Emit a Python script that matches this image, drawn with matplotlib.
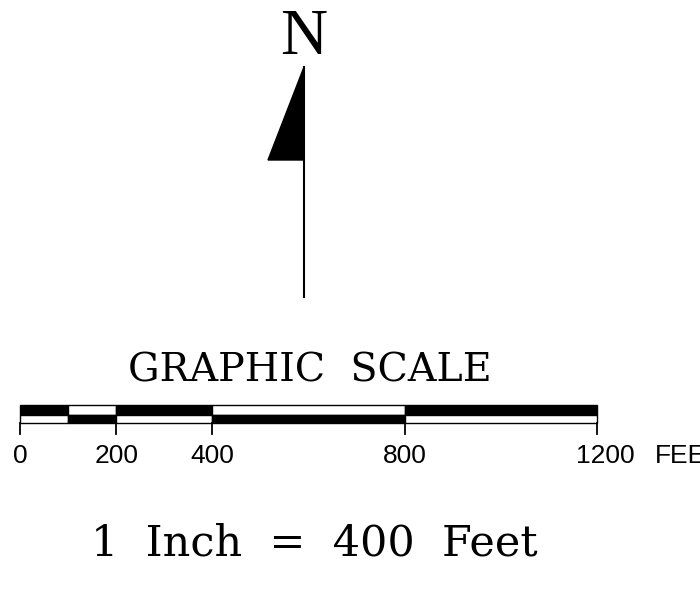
import matplotlib
matplotlib.use('Agg')
import matplotlib.pyplot as plt
from matplotlib.patches import Rectangle, Polygon

# scale bar data (feet)
tick_values = [0, 200, 400, 800, 1200]
tick_labels = ['0', '200', '400', '800', '1200']
segment_edges = [0, 100, 200, 400, 800, 1200]
top_fill = ['black', 'white', 'black', 'white', 'black']
bottom_fill = ['white', 'black', 'white', 'black', 'white']
unit_label = 'FEET'
title = 'GRAPHIC  SCALE'
ratio_text = '1  Inch  =  400  Feet'
north_label = 'N'

px_per_ft = 577 / 1200.0
x0_px = 20

fig = plt.figure(figsize=(7, 5.89), dpi=100)
ax = fig.add_axes([0, 0, 1, 1])
ax.set_xlim(-x0_px / px_per_ft, (700 - x0_px) / px_per_ft)
ax.set_ylim(589, 0)
ax.axis('off')

# bar rows
bar_top, bar_mid, bar_bot, tick_end = 405, 415, 423, 434
for i in range(len(segment_edges) - 1):
    a, b = segment_edges[i], segment_edges[i + 1]
    ax.add_patch(Rectangle((a, bar_top), b - a, bar_mid - bar_top,
                           facecolor=top_fill[i], edgecolor='black', lw=1.0))
    ax.add_patch(Rectangle((a, bar_mid), b - a, bar_bot - bar_mid,
                           facecolor=bottom_fill[i], edgecolor='black', lw=1.0))

for v, lab in zip(tick_values, tick_labels):
    ax.plot([v, v], [bar_bot, tick_end], color='black', lw=1.3)
    # the last label sits a little right of its tick in the original
    dx = 8 if v == tick_values[-1] else 0
    ax.annotate(lab, (v, 463), xytext=(dx * 0.72, 0), textcoords='offset points',
                ha='center', va='baseline', fontsize=19, family='Liberation Sans')
ax.text(tick_values[-1] + 120, 463, unit_label, ha='left', va='baseline',
        fontsize=19, family='Liberation Sans')

# titles
ax.text(602, 371, title, ha='center', va='center', fontsize=28.5,
        family='DejaVu Serif')
ax.text(613, 543, ratio_text, ha='center', va='center', fontsize=31,
        family='DejaVu Serif')

# north arrow
nx = (304 - x0_px) / px_per_ft
ax.plot([nx, nx], [67, 297], color='black', lw=1.5)
ax.add_patch(Polygon([[nx, 67], [nx - 36 / px_per_ft, 160], [nx, 160]],
                     closed=True, facecolor='black', edgecolor='black', lw=1))
ax.text(nx, 38, north_label, ha='center', va='center', fontsize=47,
        family='Liberation Serif')

fig.savefig('out.png', dpi=100, facecolor='white')
